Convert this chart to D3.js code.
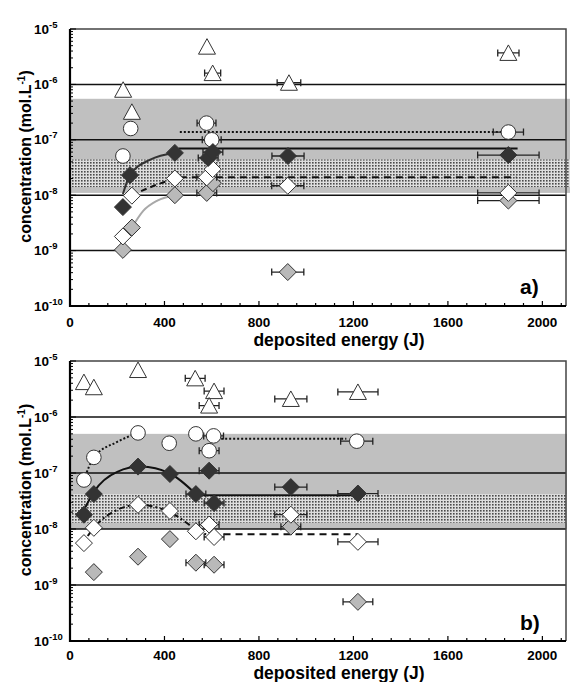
<!DOCTYPE html>
<html>
<head>
<meta charset="utf-8">
<script src="https://cdn.jsdelivr.net/npm/d3@7"></script>
<style>
  body { margin: 0; background: #fff; }
  svg { display: block; font-family: "Liberation Sans", Arial, sans-serif; }
</style>
</head>
<body>
<div id="chart"></div>
<script>
// values: [deposited energy (J), concentration (mol/L), x error (J)]
// panel a)
const aTriangles = [[225, 8e-7, 0], [262, 3.2e-7, 0], [580, 4.8e-6, 0], [604, 1.6e-6, 34], [927, 1.07e-6, 50], [1856, 3.7e-6, 45]];
const aCircles = [[257, 1.6e-7, 0], [224, 5.1e-8, 0], [578, 2e-7, 40], [600, 1e-7, 40], [1856, 1.38e-7, 64]];
const aGreyDiamonds = [[224, 1.03e-9, 0], [262, 2.6e-9, 0], [444, 1e-8, 0], [579, 1.1e-8, 42], [605, 1.65e-8, 0], [922, 4.1e-10, 68], [1856, 8e-9, 130]];
const aWhiteDiamonds = [[224, 1.8e-9, 0], [262, 9.8e-9, 0], [444, 2e-8, 0], [579, 2.1e-8, 42], [604, 2.95e-8, 0], [922, 1.48e-8, 68], [1856, 1.1e-8, 130]];
const aBlackDiamonds = [[224, 6.1e-9, 0], [254, 2.3e-8, 0], [444, 5.8e-8, 0], [585, 4.7e-8, 42], [605, 6e-8, 42], [923, 5.1e-8, 68], [1856, 5.3e-8, 130]];
// trend lines of panel a)
const aSolidFit = [[224, 1.05e-8], [254, 2.3e-8], [340, 4.4e-8], [444, 5.8e-8]];
const aSolidFlat = [[460, 7e-8], [1895, 7e-8]];
const aDashedFit = [[262, 1e-8], [350, 1.45e-8], [444, 2e-8]];
const aDashedFlat = [[465, 2.1e-8], [1890, 2.1e-8]];
const aGreyFit = [[262, 2.6e-9], [310, 5.2e-9], [370, 8e-9], [444, 1e-8]];
const aDottedFlat = [[465, 1.38e-7], [1856, 1.38e-7]];
const aBand = [1.1e-8, 5.5e-7];
const aDots = [1.4e-8, 4.4e-8];

// panel b)
const bTriangles = [[59, 4.2e-6, 0], [101, 3.4e-6, 0], [288, 6.9e-6, 0], [530, 4.9e-6, 42], [610, 2.9e-6, 42], [589, 1.6e-6, 42], [935, 2.1e-6, 68], [1219, 2.8e-6, 85]];
const bCircles = [[59, 7.5e-8, 0], [101, 1.9e-7, 0], [288, 5.2e-7, 0], [420, 3.4e-7, 0], [533, 5e-7, 0], [608, 4.6e-7, 42], [589, 2.5e-7, 42], [1214, 3.7e-7, 68]];
const bGreyDiamonds = [[101, 1.7e-9, 0], [288, 3.2e-9, 0], [423, 6.6e-9, 0], [533, 2.5e-9, 42], [610, 2.3e-9, 42], [935, 1.1e-8, 42], [1219, 5e-10, 63]];
const bWhiteDiamonds = [[59, 5.6e-9, 0], [101, 1.05e-8, 0], [288, 2.7e-8, 0], [423, 2.1e-8, 0], [533, 9.1e-9, 0], [589, 1.2e-8, 42], [610, 7.2e-9, 42], [935, 1.8e-8, 68], [1219, 5.9e-9, 85]];
const bBlackDiamonds = [[59, 1.8e-8, 0], [101, 4.2e-8, 0], [288, 1.3e-7, 0], [423, 9.6e-8, 0], [533, 4.2e-8, 42], [589, 1.1e-7, 42], [610, 2.9e-8, 42], [935, 5.6e-8, 68], [1219, 4.3e-8, 85]];
// trend lines of panel b)
const bDottedFit = [[59, 7.5e-8], [101, 1.9e-7], [200, 3.6e-7], [288, 5.2e-7]];
const bDottedFlat = [[640, 4.1e-7], [1170, 4.1e-7]];
const bSolidFit = [[62, 2.3e-8], [101, 4.6e-8], [200, 1.05e-7], [300, 1.3e-7], [423, 9.8e-8], [533, 4.2e-8]];
const bSolidFlat = [[533, 4e-8], [1219, 4e-8]];
const bDashedFit = [[75, 7.5e-9], [101, 1.05e-8], [200, 2.2e-8], [288, 2.7e-8], [423, 2e-8], [533, 1e-8], [595, 7.3e-9]];
const bDashedFlat = [[650, 8.1e-9], [1219, 8.1e-9]];
const bBand = [1e-8, 5e-7];
const bDots = [1.3e-8, 4.2e-8];

const xTicks = [0, 400, 800, 1200, 1600, 2000];
const yTicks = [1e-10, 1e-9, 1e-8, 1e-7, 1e-6, 1e-5];

const width = 570;
const height = 682;

const svg = d3.select('#chart')
    .append('svg')
    .attr('width', width)
    .attr('height', height);

// stippled fill for the narrower band
const pat = svg.append('defs').append('pattern')
    .attr('id', 'dots')
    .attr('width', 3).attr('height', 3)
    .attr('patternUnits', 'userSpaceOnUse');
pat.append('rect').attr('width', 3).attr('height', 3).attr('fill', '#dedede');
pat.append('rect').attr('width', 1.6).attr('height', 1.6).attr('fill', '#4a4a4a');

const panels = [
    { tag: 'a)', top: 29, bottom: 306, bandRight: 570, tickY: 327, labelY: 346, tagY: 294,
      band: aBand, dots: aDots,
      tri: aTriangles, circ: aCircles, grey: aGreyDiamonds, white: aWhiteDiamonds, black: aBlackDiamonds,
      lines: [
          { pts: aGreyFit, stroke: '#a8a8a8', dash: null, curve: true },
          { pts: aSolidFit, stroke: '#333', dash: null, curve: true },
          { pts: aSolidFlat, stroke: '#111', dash: null },
          { pts: aDashedFit, stroke: '#111', dash: '6,4', curve: true },
          { pts: aDashedFlat, stroke: '#111', dash: '7,5' },
          { pts: aDottedFlat, stroke: '#111', dash: '2,2' }
      ] },
    { tag: 'b)', top: 361, bottom: 641, bandRight: 567, tickY: 660, labelY: 679, tagY: 630,
      band: bBand, dots: bDots,
      tri: bTriangles, circ: bCircles, grey: bGreyDiamonds, white: bWhiteDiamonds, black: bBlackDiamonds,
      lines: [
          { pts: bDottedFit, stroke: '#111', dash: '2,2', curve: true },
          { pts: bDottedFlat, stroke: '#111', dash: '2,2' },
          { pts: bSolidFit, stroke: '#111', dash: null, curve: true },
          { pts: bSolidFlat, stroke: '#111', dash: null },
          { pts: bDashedFit, stroke: '#111', dash: '6,3,2,3', curve: true },
          { pts: bDashedFlat, stroke: '#111', dash: '7,5' }
      ] }
];

panels.forEach(p => {
    const x = d3.scaleLinear().domain([0, 2100]).range([70, 566]);
    const y = d3.scaleLog().domain([1e-10, 1e-5]).range([p.bottom, p.top]);
    const g = svg.append('g');

    // shaded bands
    g.append('rect')
        .attr('x', x(0)).attr('width', p.bandRight - x(0))
        .attr('y', y(p.band[1])).attr('height', y(p.band[0]) - y(p.band[1]))
        .attr('fill', '#c0c0c0');
    g.append('rect')
        .attr('x', x(0)).attr('width', p.bandRight - x(0))
        .attr('y', y(p.dots[1])).attr('height', y(p.dots[0]) - y(p.dots[1]))
        .attr('fill', 'url(#dots)');

    // decade lines
    g.selectAll('.grid')
        .data(yTicks.slice(1, -1))
        .enter()
        .append('line')
        .attr('x1', x(0)).attr('x2', x(2100))
        .attr('y1', d => y(d)).attr('y2', d => y(d))
        .attr('stroke', '#111')
        .attr('stroke-width', 1.5);

    // frame
    g.append('path')
        .attr('d', `M${x(0)},${y(1e-5)}H${x(2100)}V${y(1e-10)}`)
        .attr('fill', 'none').attr('stroke', '#444').attr('stroke-width', 1.5);
    g.append('path')
        .attr('d', `M${x(0)},${y(1e-5)}V${y(1e-10)}H${x(2100)}`)
        .attr('fill', 'none').attr('stroke', '#000').attr('stroke-width', 2.2);

    // y ticks (log minor ticks from the scale)
    g.selectAll('.ytick')
        .data(y.ticks())
        .enter()
        .append('line')
        .attr('x1', x(0)).attr('x2', d => x(0) + (yTicks.includes(d) ? 6 : 3))
        .attr('y1', d => y(d)).attr('y2', d => y(d))
        .attr('stroke', '#000').attr('stroke-width', 1);

    // x ticks, minor every 80 J
    g.selectAll('.xtick')
        .data(d3.range(0, 2081, 80))
        .enter()
        .append('line')
        .attr('x1', d => x(d)).attr('x2', d => x(d))
        .attr('y1', y(1e-10)).attr('y2', d => y(1e-10) - (d % 400 === 0 ? 5 : 3))
        .attr('stroke', '#000').attr('stroke-width', 1.2);

    // tick labels
    g.selectAll('.xlab')
        .data(xTicks)
        .enter()
        .append('text')
        .attr('x', d => x(d)).attr('y', p.tickY)
        .attr('text-anchor', 'middle')
        .attr('font-size', 13.5).attr('font-weight', 'bold')
        .text(d => d);

    const yl = g.selectAll('.ylab')
        .data(yTicks)
        .enter()
        .append('text')
        .attr('x', 34).attr('y', d => y(d) + 4.5)
        .attr('font-size', 13.5).attr('font-weight', 'bold');
    yl.append('tspan').text('10');
    yl.append('tspan').attr('dy', -6).attr('font-size', 9.5).text(d => Math.round(Math.log10(d)));

    // axis titles
    g.append('text')
        .attr('x', 339).attr('y', p.labelY)
        .attr('text-anchor', 'middle')
        .attr('font-size', 17.5).attr('font-weight', 'bold')
        .text('deposited energy (J)');
    const yt = g.append('text')
        .attr('transform', `translate(31,${(p.top + p.bottom) / 2 - 11}) rotate(-90)`)
        .attr('text-anchor', 'middle')
        .attr('font-size', 16).attr('font-weight', 'bold');
    yt.append('tspan').text('concentration (mol.L');
    yt.append('tspan').attr('dy', -6).attr('font-size', 10).text('-1');
    yt.append('tspan').attr('dy', 6).text(')');

    g.append('text')
        .attr('x', 520).attr('y', p.tagY)
        .attr('font-size', 21).attr('font-weight', 'bold')
        .text(p.tag);

    // trend lines
    p.lines.forEach(l => {
        const line = d3.line()
            .x(d => x(d[0])).y(d => y(d[1]))
            .curve(l.curve ? d3.curveMonotoneX : d3.curveLinear);
        g.append('path')
            .attr('d', line(l.pts))
            .attr('fill', 'none')
            .attr('stroke', l.stroke)
            .attr('stroke-width', 2)
            .attr('stroke-dasharray', l.dash);
    });

    // markers with horizontal error bars
    const shapes = {
        tri: 'M0,-8L8.5,7.5L-8.5,7.5Z',
        diamond: 'M0,-8.5L8.5,0L0,8.5L-8.5,0Z'
    };
    const series = [
        { data: p.circ, shape: 'circle', fill: '#fff' },
        { data: p.tri, shape: 'tri', fill: '#fff' },
        { data: p.grey, shape: 'diamond', fill: '#b9b9b9' },
        { data: p.white, shape: 'diamond', fill: '#fff' },
        { data: p.black, shape: 'diamond', fill: '#333' }
    ];
    series.forEach(s => {
        const withErr = s.data.filter(d => d[2] > 0);
        g.selectAll(null)
            .data(withErr)
            .enter()
            .append('path')
            .attr('d', d => {
                const x0 = x(d[0] - d[2]), x1 = x(d[0] + d[2]), yy = y(d[1]);
                return `M${x0},${yy}H${x1}M${x0},${yy - 3.5}V${yy + 3.5}M${x1},${yy - 3.5}V${yy + 3.5}`;
            })
            .attr('fill', 'none').attr('stroke', '#222').attr('stroke-width', 1.3);
        if (s.shape === 'circle') {
            g.selectAll(null)
                .data(s.data)
                .enter()
                .append('circle')
                .attr('cx', d => x(d[0])).attr('cy', d => y(d[1]))
                .attr('r', 7.3)
                .attr('fill', s.fill).attr('stroke', '#333').attr('stroke-width', 1);
        } else {
            g.selectAll(null)
                .data(s.data)
                .enter()
                .append('path')
                .attr('d', shapes[s.shape])
                .attr('transform', d => `translate(${x(d[0])},${y(d[1])})`)
                .attr('fill', s.fill).attr('stroke', '#333').attr('stroke-width', 1);
        }
    });
});
</script>
</body>
</html>
